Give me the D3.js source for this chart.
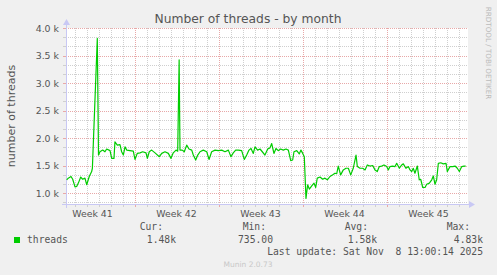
<!DOCTYPE html>
<html>
<head>
  <title>Number of threads - by month</title>
  <script src="https://cdn.jsdelivr.net/npm/d3@7/dist/d3.min.js"></script>
  <style>
    body { margin: 0; background: #f0f0f0; }
    text { font-family: "DejaVu Sans", sans-serif; }
    .mono { font-family: "DejaVu Sans Mono", monospace; white-space: pre; }
  </style>
</head>
<body>
  <svg width="497" height="275" id="mainsvg"></svg>
  <script>
    // time offsets in days since 2025-10-07 00:00 UTC
    const days = [0.35, 0.48, 0.71, 0.85, 1.04, 1.18, 1.32, 1.52, 1.68, 1.87, 2.02, 2.23, 2.43, 2.49, 2.90, 3.0,
      3.12, 3.35, 3.54, 3.68, 3.96, 4.10, 4.29, 4.37, 4.57, 4.79, 4.93, 5.07, 5.21, 5.35, 5.62, 5.90,
      6.04, 6.23, 6.46, 6.68, 6.96, 7.07, 7.23, 7.43, 7.71, 8.07, 8.27, 8.54, 8.82, 9.04, 9.23, 9.46,
      9.60, 9.72, 9.79, 9.98, 10.15, 10.35, 10.54, 10.77, 10.90, 11.10, 11.27, 11.46, 11.73, 12.02, 12.21, 12.43,
      12.71, 12.98, 13.27, 13.54, 13.82, 14.04, 14.23, 14.43, 14.65, 14.93, 15.15, 15.35, 15.54, 15.71, 15.90, 16.04,
      16.26, 16.46, 16.65, 16.87, 17.10, 17.29, 17.43, 17.62, 17.79, 17.98, 18.18, 18.40, 18.62, 18.82, 19.02, 19.18,
      19.29, 19.52, 19.73, 19.87, 20.02, 20.15, 20.29, 20.43, 20.57, 20.77, 20.96, 21.10, 21.23, 21.46, 21.68, 21.87,
      22.07, 22.29, 22.52, 22.71, 22.85, 22.98, 23.18, 23.40, 23.62, 23.82, 24.02, 24.23, 24.46, 24.57, 24.79, 25.02,
      25.21, 25.40, 25.62, 25.85, 26.04, 26.23, 26.40, 26.60, 26.79, 27.02, 27.15, 27.29, 27.51, 27.71, 27.85, 28.07,
      28.27, 28.40, 28.62, 28.82, 28.96, 29.10, 29.23, 29.37, 29.57, 29.73, 29.85, 30.02, 30.21, 30.35, 30.57, 30.77,
      30.90, 31.04, 31.18, 31.32, 31.52, 31.73, 31.96, 32.07, 32.29, 32.52, 32.71, 32.90, 33.07, 33.27, 33.46, 33.60];
    const threads = [1240, 1270, 1300, 1250, 1110, 1120, 1180, 1290, 1250, 1270, 1150, 1300, 1390, 1450, 3810, 1690,
      1750, 1780, 1750, 1800, 1770, 1630, 1630, 1930, 1870, 1880, 1750, 1690, 1840, 1780, 1770, 1760,
      1610, 1720, 1730, 1750, 1730, 1630, 1750, 1780, 1730, 1660, 1720, 1750, 1720, 1630, 1730, 1780,
      1760, 3420, 1780, 1780, 1750, 1870, 1800, 1780, 1690, 1600, 1690, 1750, 1780, 1750, 1610, 1750,
      1780, 1770, 1780, 1750, 1780, 1660, 1730, 1780, 1780, 1770, 1610, 1690, 1780, 1810, 1720, 1840,
      1780, 1800, 1750, 1690, 1800, 1820, 1900, 1720, 1810, 1770, 1800, 1780, 1800, 1780, 1590, 1600,
      1750, 1770, 1710, 1780, 1720, 1660, 900, 1150, 1070, 1130, 1180, 1100, 1270, 1290, 1250, 1270,
      1240, 1300, 1330, 1360, 1350, 1490, 1330, 1420, 1450, 1450, 1330, 1450, 1690, 1480, 1450, 1450,
      1420, 1510, 1490, 1500, 1420, 1390, 1480, 1490, 1510, 1480, 1420, 1480, 1490, 1480, 1540, 1450,
      1510, 1530, 1450, 1480, 1420, 1390, 1450, 1360, 1490, 1240, 1250, 1100, 1100, 1160, 1180, 1240,
      1310, 1160, 1240, 1540, 1550, 1530, 1540, 1390, 1480, 1480, 1490, 1450, 1390, 1480, 1490, 1490];
    const yTicks = [1000, 1500, 2000, 2500, 3000, 3500, 4000];
    const legendLabels = ['Cur:', 'Min:', 'Avg:', 'Max:'];
    const legendValues = ['1.48k', '735.00', '1.58k', '4.83k'];
    const lastUpdate = 'Last update: Sat Nov  8 13:00:14 2025';

    const svg = d3.select('#mainsvg');
    const t0 = Date.UTC(2025, 9, 7);
    const toDate = d => new Date(t0 + d * 864e5);
    const start = new Date(Date.UTC(2025, 9, 7, 7));
    const end = new Date(start.getTime() + 804 * 36e5);

    const pLeft = 66, pRight = 468, pTop = 28, pBottom = 204;
    const x = d3.scaleUtc().domain([start, end]).range([pLeft, pRight]);
    const y = d3.scaleLinear().domain([800, 4000]).range([pBottom, pTop]);

    const major = '#e8a8a8', minor = '#cfcfcf', axisCol = '#c8c8f4', textCol = '#555';

    svg.append('rect').attr('x', pLeft).attr('y', pTop)
      .attr('width', pRight - pLeft).attr('height', pBottom - pTop).attr('fill', '#fff');

    // grid
    const minorY = d3.range(5, 25).map(i => i * 1000 / 6).filter(v => Math.abs(v % 500) > 1 && Math.abs(v % 500 - 500) > 1);
    const days2 = d3.utcDay.range(start, end).filter(d => d.getUTCDay() !== 1);
    const weeks = d3.utcMonday.range(start, end);
    const g = svg.append('g').attr('shape-rendering', 'crispEdges');
    g.selectAll('.hmin').data(minorY).join('line')
      .attr('x1', pLeft).attr('x2', pRight)
      .attr('y1', d => Math.round(y(d)) + 0.5).attr('y2', d => Math.round(y(d)) + 0.5)
      .attr('stroke', minor).attr('stroke-dasharray', '1,1');
    g.selectAll('.vmin').data(days2).join('line')
      .attr('x1', d => Math.round(x(d)) + 0.5).attr('x2', d => Math.round(x(d)) + 0.5)
      .attr('y1', pTop).attr('y2', pBottom)
      .attr('stroke', minor).attr('stroke-dasharray', '1,1');
    g.selectAll('.hmaj').data(yTicks).join('line')
      .attr('x1', pLeft).attr('x2', pRight)
      .attr('y1', d => Math.round(y(d)) + 0.5).attr('y2', d => Math.round(y(d)) + 0.5)
      .attr('stroke', major).attr('stroke-dasharray', '1,1');
    g.selectAll('.vmaj').data(weeks).join('line')
      .attr('x1', d => Math.round(x(d)) + 0.5).attr('x2', d => Math.round(x(d)) + 0.5)
      .attr('y1', pTop).attr('y2', pBottom)
      .attr('stroke', major).attr('stroke-dasharray', '1,1');

    // ticks
    g.selectAll('.ty').data(minorY.concat(yTicks)).join('line')
      .attr('x1', pLeft - 3).attr('x2', pLeft)
      .attr('y1', d => Math.round(y(d)) + 0.5).attr('y2', d => Math.round(y(d)) + 0.5)
      .attr('stroke', d => yTicks.includes(d) ? major : minor);
    g.selectAll('.tx').data(days2.concat(weeks)).join('line')
      .attr('x1', d => Math.round(x(d)) + 0.5).attr('x2', d => Math.round(x(d)) + 0.5)
      .attr('y1', pBottom).attr('y2', pBottom + 3)
      .attr('stroke', d => d.getUTCDay() === 1 ? major : minor);

    // axes with arrows
    g.append('line').attr('x1', pLeft - 4).attr('x2', pRight + 2).attr('y1', pBottom + 0.5).attr('y2', pBottom + 0.5).attr('stroke', axisCol);
    g.append('line').attr('x1', pLeft + 0.5).attr('x2', pLeft + 0.5).attr('y1', pBottom + 4).attr('y2', pTop - 4).attr('stroke', axisCol);
    svg.append('path').attr('d', `M${pRight + 1},${pBottom - 3}L${pRight + 7},${pBottom + 0.5}L${pRight + 1},${pBottom + 4}Z`).attr('fill', axisCol);
    svg.append('path').attr('d', `M${pLeft - 3},${pTop - 3}L${pLeft + 0.5},${pTop - 9}L${pLeft + 4},${pTop - 3}Z`).attr('fill', axisCol);

    // line
    const line = d3.line().x((d, i) => x(toDate(days[i]))).y(d => y(d));
    svg.append('path').datum(threads)
      .attr('fill', 'none').attr('stroke', '#00cc00').attr('stroke-width', 1.2)
      .attr('stroke-linejoin', 'round').attr('d', line);

    // labels
    svg.selectAll('.ylab').data(yTicks).join('text')
      .attr('x', pLeft - 7).attr('y', d => y(d) + 3.5)
      .attr('text-anchor', 'end').attr('font-size', 9.4).attr('fill', textCol)
      .text(d => (d / 1000).toFixed(1) + ' k');
    svg.selectAll('.xlab').data(weeks.concat([d3.utcMonday.floor(start)]).sort((a, b) => a - b)).join('text')
      .attr('x', d => x(d3.utcHour.offset(d, 84))).attr('y', pBottom + 13)
      .attr('text-anchor', 'middle').attr('font-size', 9.4).attr('fill', textCol)
      .text(d => 'Week ' + d3.utcFormat('%V')(d));

    svg.append('text').attr('x', 248).attr('y', 23).attr('text-anchor', 'middle')
      .attr('font-size', 12.3).attr('fill', textCol).text('Number of threads - by month');
    svg.append('text').attr('transform', `translate(15,${(pTop + pBottom) / 2}) rotate(-90)`)
      .attr('text-anchor', 'middle').attr('font-size', 11).attr('fill', textCol).text('number of threads');
    svg.append('text').attr('transform', 'translate(486,53) rotate(90)')
      .attr('text-anchor', 'middle').attr('font-size', 7.2).attr('fill', '#bbb').text('RRDTOOL / TOBI OETIKER');

    // legend
    svg.append('rect').attr('x', 14).attr('y', 237).attr('width', 6).attr('height', 6).attr('fill', '#00cc00');
    svg.append('text').attr('class', 'mono').attr('x', 27).attr('y', 243)
      .attr('font-size', 9.7).attr('fill', textCol).text('threads');
    const labelEnds = [163, 266, 368, 470];
    const valueEnds = [176, 273, 377, 483];
    svg.selectAll('.llab').data(legendLabels).join('text').attr('class', 'mono')
      .attr('x', (d, i) => labelEnds[i]).attr('y', 230).attr('text-anchor', 'end')
      .attr('font-size', 9.7).attr('fill', textCol).text(d => d);
    svg.selectAll('.lval').data(legendValues).join('text').attr('class', 'mono')
      .attr('x', (d, i) => valueEnds[i]).attr('y', 243).attr('text-anchor', 'end')
      .attr('font-size', 9.7).attr('fill', textCol).text(d => d);
    svg.append('text').attr('class', 'mono').attr('x', 483).attr('y', 255).attr('text-anchor', 'end')
      .attr('font-size', 9.7).attr('fill', textCol).text(lastUpdate);
    svg.append('text').attr('x', 248).attr('y', 267).attr('text-anchor', 'middle')
      .attr('font-size', 7.5).attr('fill', '#c8c8c8').text('Munin 2.0.73');
  </script>
</body>
</html>
